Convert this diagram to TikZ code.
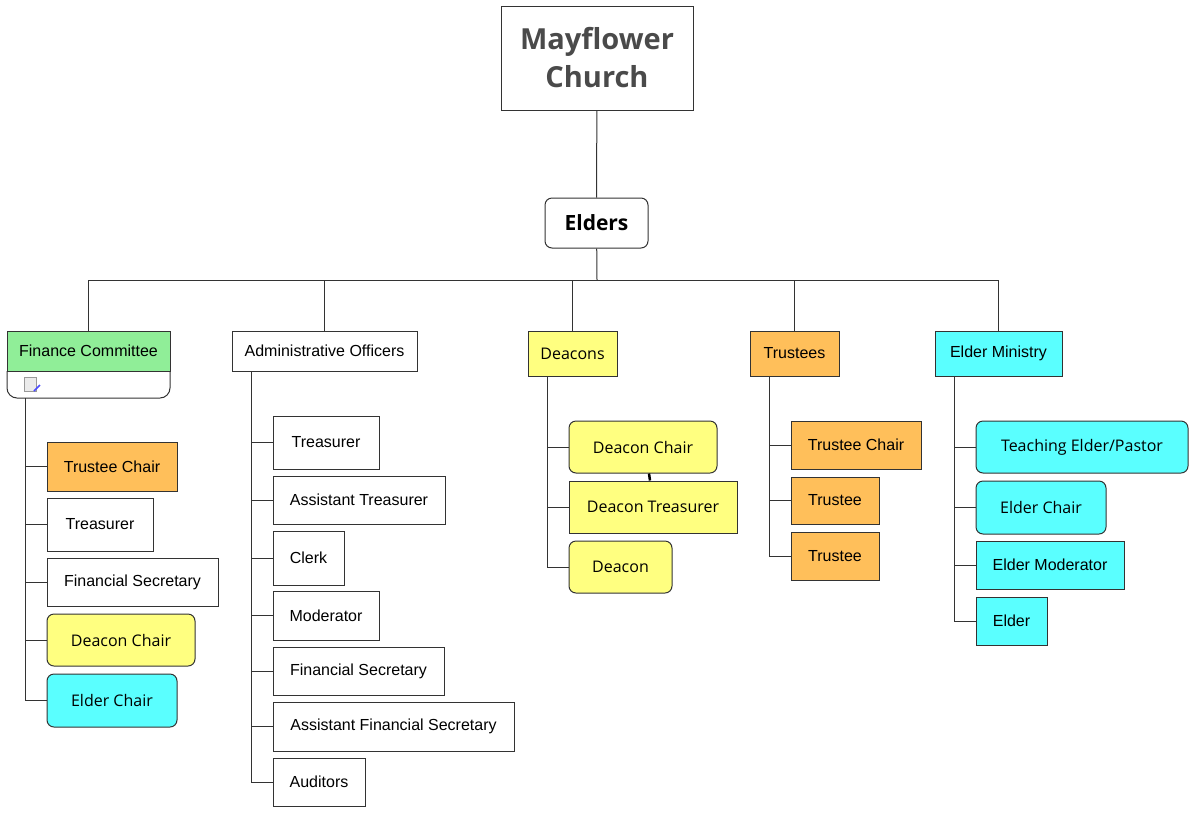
\documentclass[tikz,border=0pt]{standalone}
\usepackage{fontspec}
\setmainfont{Liberation Sans}
\newfontfamily\osans{Open Sans}
\definecolor{cgreen}{HTML}{90EE98}
\definecolor{corange}{HTML}{FFBF5A}
\definecolor{cyellow}{HTML}{FFFF80}
\definecolor{ccyan}{HTML}{5AFFFF}
\definecolor{cline}{HTML}{333333}
\definecolor{ctitle}{HTML}{4A4A4A}
\newcommand\mybox[7]{\node[#1,minimum width={(#5-#3)*1pt},minimum height={(#6-#4)*1pt}] (#2) at ({(#3+#5)/2},{(#4+#6)/2}) {#7};}
\begin{document}
\begin{tikzpicture}[x=1pt,y=-1pt,
  box/.style={draw=cline,line width=1pt,inner sep=0pt,font=\fontsize{16}{18}\selectfont,fill=white},
  rbox/.style={box,rounded corners=7pt,font=\osans\fontsize{16}{18}\selectfont},
  conn/.style={draw=cline,line width=1pt}]
\useasboundingbox (0,0) rectangle (1199,823);
\mybox{box,font=\osans\bfseries\fontsize{29}{38}\selectfont,align=center,text=ctitle}{title}{501}{6}{693}{110}{Mayflower\\Church}
\mybox{rbox,font=\osans\bfseries\fontsize{21}{24}\selectfont}{elders}{545}{198}{648}{248}{Elders}
% level 1
\draw[conn,rounded corners=10pt,fill=white] (7,371) -- (7,398) -- (170,398) -- (170,371);
\mybox{box,fill=cgreen}{fin}{7}{331}{170}{371}{Finance Committee}
\coordinate (finb) at (25,398);
\draw[fill=black!8,draw=black!40] (24,377) rectangle (36,391);
\draw[blue!70,line width=1.5pt] (34,391) -- (40,385);
\mybox{box}{adm}{232}{331}{417}{371}{Administrative Officers}
\mybox{box,fill=cyellow}{dea}{528}{331}{617}{376}{\osans Deacons}
\mybox{box,fill=corange}{tru}{750}{331}{839}{376}{Trustees}
\mybox{box,fill=ccyan}{eld}{935}{331}{1062}{376}{Elder Ministry}
\coordinate (bus) at (597,280);
\draw[conn] (title) -- (elders);
\draw[conn] (elders) -- (bus);
\foreach \n in {fin,adm,dea,tru,eld}{\draw[conn] (\n.north) -- (\n.north |- bus);}
\draw[conn] (fin.north |- bus) -- (eld.north |- bus);
% finance children
\mybox{box,fill=corange}{f1}{47}{442}{177}{491}{Trustee Chair}
\mybox{box}{f2}{47}{498}{153}{551}{Treasurer}
\mybox{box}{f3}{47}{558}{218}{606}{Financial Secretary}
\mybox{rbox,fill=cyellow}{f4}{47}{614}{195}{666}{Deacon Chair}
\mybox{rbox,fill=ccyan}{f5}{47}{674}{177}{727}{Elder Chair}
\draw[conn] (finb) -- (finb |- f5.west);
\foreach \n in {f1,f2,f3,f4,f5}{\draw[conn] (\n.west) -- (\n.west -| finb);}
% admin children
\coordinate (admb) at (251,371);
\mybox{box}{a1}{273}{416}{379}{469}{Treasurer}
\mybox{box}{a2}{273}{476}{445}{524}{Assistant Treasurer}
\mybox{box}{a3}{273}{531}{344}{585}{Clerk}
\mybox{box}{a4}{273}{591}{379}{640}{Moderator}
\mybox{box}{a5}{273}{647}{444}{695}{Financial Secretary}
\mybox{box}{a6}{273}{702}{514}{751}{Assistant Financial Secretary}
\mybox{box}{a7}{273}{758}{365}{806}{Auditors}
\draw[conn] (admb) -- (admb |- a7.west);
\foreach \n in {a1,a2,a3,a4,a5,a6,a7}{\draw[conn] (\n.west) -- (\n.west -| admb);}
% deacons
\coordinate (deab) at (547,376);
\mybox{rbox,fill=cyellow}{d1}{569}{421}{717}{473}{Deacon Chair}
\mybox{box,fill=cyellow,font=\osans\fontsize{16}{18}\selectfont}{d2}{569}{481}{737}{533}{Deacon Treasurer}
\mybox{rbox,fill=cyellow}{d3}{569}{541}{672}{593}{Deacon}
\draw[conn] (deab) -- (deab |- d3.west);
\foreach \n in {d1,d2,d3}{\draw[conn] (\n.west) -- (\n.west -| deab);}
\draw[line width=2.5pt] (d1.south -| 649,0) -- (d2.north -| 650,0);
% trustees
\coordinate (trub) at (769,376);
\mybox{box,fill=corange}{t1}{791}{421}{921}{469}{Trustee Chair}
\mybox{box,fill=corange}{t2}{791}{477}{879}{524}{Trustee}
\mybox{box,fill=corange}{t3}{791}{532}{879}{580}{Trustee}
\draw[conn] (trub) -- (trub |- t3.west);
\foreach \n in {t1,t2,t3}{\draw[conn] (\n.west) -- (\n.west -| trub);}
% elder ministry
\coordinate (eldb) at (954,376);
\mybox{rbox,fill=ccyan}{e1}{976}{421}{1188}{473}{Teaching Elder/Pastor}
\mybox{rbox,fill=ccyan}{e2}{976}{481}{1106}{534}{Elder Chair}
\mybox{box,fill=ccyan}{e3}{976}{541}{1124}{589}{Elder Moderator}
\mybox{box,fill=ccyan}{e4}{976}{597}{1047}{645}{Elder}
\draw[conn] (eldb) -- (eldb |- e4.west);
\foreach \n in {e1,e2,e3,e4}{\draw[conn] (\n.west) -- (\n.west -| eldb);}
\end{tikzpicture}
\end{document}
